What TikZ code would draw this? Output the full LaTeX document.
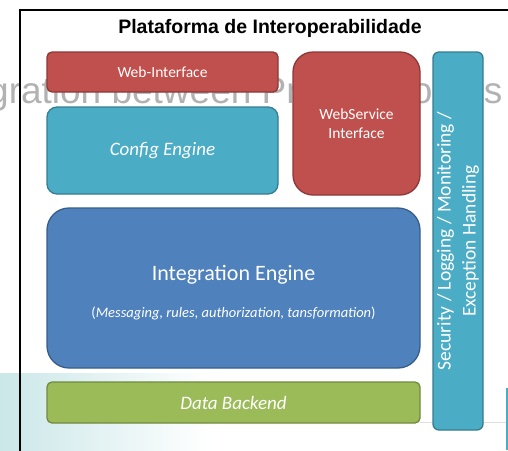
\documentclass[tikz,border=0pt]{standalone}
\usepackage{fontspec}
\setmainfont{Carlito}
\newfontfamily\arialfont{Liberation Sans}
\usetikzlibrary{positioning}

\definecolor{redfill}{HTML}{C0504D}
\definecolor{redline}{HTML}{8C3836}
\definecolor{tealfill}{HTML}{4BACC6}
\definecolor{tealline}{HTML}{357D91}
\definecolor{bluefill}{HTML}{4F81BD}
\definecolor{blueline}{HTML}{385D8A}
\definecolor{greenfill}{HTML}{9BBB59}
\definecolor{greenline}{HTML}{71893F}
\definecolor{bgteal}{HTML}{CBE7E8}

\begin{document}
\begin{tikzpicture}[
  x=1pt, y=-1pt,
  every node/.style={align=center, inner sep=0pt},
  box/.style={draw, line width=1.3pt, rounded corners=5pt, text=white},
  web/.style={box, fill=redfill, draw=redline},
  cfg/.style={box, fill=tealfill, draw=tealline},
  eng/.style={box, fill=bluefill, draw=blueline},
  dat/.style={box, fill=greenfill, draw=greenline},
  small/.style={font=\fontsize{15.5}{19}\selectfont},
  big/.style={font=\fontsize{19}{24}\selectfont}
]
\clip (0,0) rectangle (508,450);

% slide behind the screenshot
\shade[left color=bgteal, right color=white] (0,373) rectangle (210,450);
\draw[gray!25] (420,422) -- (508,422);
\fill[tealfill] (505.5,388) rectangle (508,450);
\node[anchor=base west, text=gray!60, font=\arialfont\fontsize{37}{40}\selectfont]
  (behind) at (-12,103) {gration between Project Portals};

% frame + title
\draw[line width=1.6pt] (530,10) -- (20,10) -- (20,470);
\node[font=\arialfont\bfseries\fontsize{19.5}{23}\selectfont, anchor=base]
  (title) at (270,33) {Plataforma de Interoperabilidade};

% front ends
\node[web, small, minimum width=231pt, minimum height=40pt] (webui) at (162.5,72) {Web-Interface};
\node[cfg, big, minimum width=231pt, minimum height=87pt, rounded corners=10pt] (config) at (162.5,150.5) {\textit{Config Engine}};
\node[web, small, minimum width=127pt, minimum height=143pt, rounded corners=20pt] (wsi) at (356.5,123.5) {WebService\\Interface};

% engine + backend
\node[eng, minimum width=373pt, minimum height=160pt, rounded corners=22pt] (engine) at (233.5,288)
  {{\fontsize{22}{26}\selectfont\rule{0pt}{24pt}Integration Engine}\\[22pt]
   {\fontsize{14.5}{17}\selectfont(\textit{Messaging, rules, authorization, tansformation})}};
\node[dat, big, minimum width=373pt, minimum height=41pt] (backend) at (233.5,402.5) {\textit{Data Backend}};

% cross-cutting bar
\node[cfg, rotate=90, minimum width=378pt, minimum height=50pt, rounded corners=6pt,
  font=\fontsize{19.5}{25}\selectfont] (security) at (458,241)
  {Security / Logging / Monitoring /\\Exception Handling};
\end{tikzpicture}
\end{document}
